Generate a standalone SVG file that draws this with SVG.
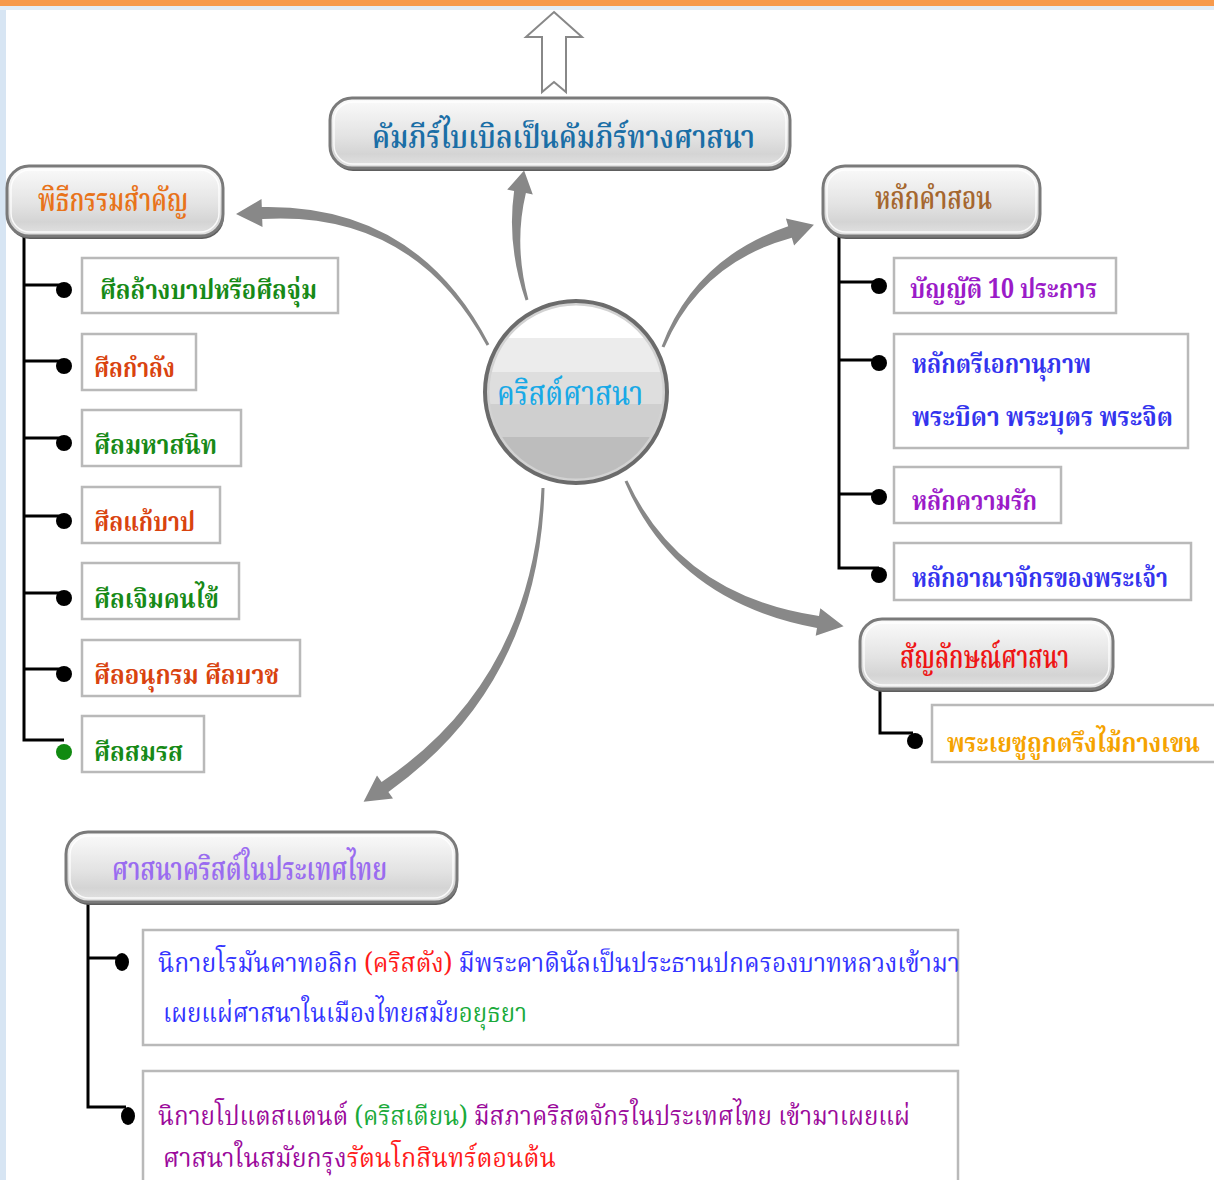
<svg xmlns="http://www.w3.org/2000/svg" width="1214" height="1180" viewBox="0 0 1214 1180">
<defs>
<linearGradient id="gloss" x1="0" y1="0" x2="0" y2="1">
<stop offset="0" stop-color="#fbfbfb"/>
<stop offset="0.3" stop-color="#eeeeee"/>
<stop offset="0.55" stop-color="#e3e3e3"/>
<stop offset="0.8" stop-color="#d4d4d4"/>
<stop offset="1" stop-color="#e4e4e4"/>
</linearGradient>
<clipPath id="cc"><circle cx="576" cy="392" r="88"/></clipPath>
</defs>
<style>
.hdr-sh{fill:#5e5e5e}
.hdr{fill:url(#gloss);stroke:#7a7a7a;stroke-width:3}
.hdr-in{fill:none;stroke:#ffffff;stroke-opacity:0.85;stroke-width:1.5}
.box{fill:#ffffff;stroke:#b9b9b9;stroke-width:2.5}
.ln{fill:none;stroke:#000;stroke-width:3}
.dot{fill:#000}
.arr{fill:#888888}
.t{font-family:"Noto Serif Thai","Norasi","Tlwg Typo","Garuda","Loma","Noto Sans Thai","Liberation Serif",serif}
.h{font-size:32px;font-weight:600}
.it{font-size:27px;font-weight:bold}
.bt{font-size:27px}
.green{fill:#178a17}
.red{fill:#d9430f}
.purple{fill:#9b1bc8}
.blue{fill:#3434ee}
</style>
<rect x="0" y="0" width="1214" height="1180" fill="#ffffff"/>
<rect x="0" y="0" width="6" height="1180" fill="#d7e5f3"/>
<rect x="0" y="6" width="1214" height="4" fill="#e3edf7"/>
<rect x="0" y="0" width="1214" height="6" fill="#f79a4c"/>

<g id="connectors">
<path d="M554,12 L582,37 L566,37 L566,92 L554,82 L542,92 L542,37 L526,37 Z" fill="#ffffff" stroke="#888" stroke-width="2"/>
<path class="arr" d="M489.3,344.3 Q416.7,204 261.8,207 L261.5,199 L236,214 L262.5,227 L262.2,219 Q413.3,210 486.7,345.7 Z"/>
<path class="arr" d="M528.4,299.6 Q513.5,244.8 525.9,193.1 L532.8,194.4 L524.1,170.4 L507.2,189.6 L514.1,190.9 Q506.5,245.2 525.6,300.4 Z"/>
<path class="arr" d="M664.4,347.6 Q699.9,263.1 791.8,237.7 L794.1,245.4 L813.9,224.7 L785.9,218.6 L788.2,226.3 Q695.1,257.9 661.6,346.4 Z"/>
<path class="arr" d="M541.5,487.9 Q532.5,680.6 381.6,782.1 L377,775.5 L363.6,801.8 L393,798.5 L388.4,791.9 Q539.5,684.4 544.5,488.1 Z"/>
<path class="arr" d="M624.6,481.6 Q675.5,601.7 817,627.9 L815.7,635.8 L843.6,626.3 L820.3,608.2 L819,616.1 Q680.5,595.3 627.4,480.4 Z"/>
<path class="ln" d="M24,236 V740 H64 M24,285 H62 M24,361 H62 M24,438 H62 M24,516 H62 M24,593 H62 M24,669 H62"/>
<circle class="dot" cx="64" cy="290" r="8"/>
<circle class="dot" cx="64" cy="366" r="8"/>
<circle class="dot" cx="64" cy="443" r="8"/>
<circle class="dot" cx="64" cy="521" r="8"/>
<circle class="dot" cx="64" cy="598" r="8"/>
<circle class="dot" cx="64" cy="674" r="8"/>
<circle cx="64" cy="752" r="8" fill="#118a11"/>
<path class="ln" d="M839,236 V568 H879 M839,282 H877 M839,360 H877 M839,494 H877"/>
<circle class="dot" cx="879" cy="286" r="8"/>
<circle class="dot" cx="879" cy="363" r="8"/>
<circle class="dot" cx="879" cy="497" r="8"/>
<circle class="dot" cx="879" cy="575" r="8"/>
<path class="ln" d="M880,689 V733 H913"/>
<circle class="dot" cx="915" cy="741" r="8"/>
<path class="ln" d="M88,902 V1107 H126 M88,958 H120"/>
<ellipse class="dot" cx="122" cy="962" rx="7" ry="9"/>
<ellipse class="dot" cx="128" cy="1116" rx="7" ry="9"/>
</g>

<g id="center">
<g clip-path="url(#cc)">
<rect x="480" y="296" width="200" height="200" fill="#ffffff"/>
<rect x="480" y="338" width="200" height="34" fill="#ececec"/>
<rect x="480" y="372" width="200" height="32" fill="#dedede"/>
<rect x="480" y="404" width="200" height="33" fill="#cfcfcf"/>
<rect x="480" y="437" width="200" height="60" fill="#bdbdbd"/>
</g>
<circle cx="576" cy="392" r="88" fill="none" stroke="#d2d2d2" stroke-width="3"/>
<circle cx="576" cy="392" r="91" fill="none" stroke="#6b6b6b" stroke-width="4"/>
<text class="t" x="497" y="405" font-size="34" font-weight="500" fill="#19a9e6" textLength="146" lengthAdjust="spacingAndGlyphs">คริสต์ศาสนา</text>
</g>

<g id="bible">
<rect class="hdr-sh" x="331" y="101" width="460" height="70" rx="22"/>
<rect class="hdr" x="330" y="98" width="460" height="70" rx="22"/>
<rect class="hdr-in" x="334" y="102" width="452" height="62" rx="19"/>
<text class="t h" x="372" y="148" fill="#1a6ea6" textLength="383" lengthAdjust="spacingAndGlyphs">คัมภีร์ไบเบิลเป็นคัมภีร์ทางศาสนา</text>
</g>

<g id="rituals">
<rect class="hdr-sh" x="8" y="169" width="216" height="70" rx="22"/>
<rect class="hdr" x="7" y="166" width="216" height="70" rx="22"/>
<rect class="hdr-in" x="11" y="170" width="208" height="62" rx="19"/>
<text class="t h" x="38" y="211" fill="#e8731a" textLength="150" lengthAdjust="spacingAndGlyphs">พิธีกรรมสำคัญ</text>
</g>
<g id="r1"><rect class="box" x="82" y="258" width="256" height="55"/><text class="t it green" x="100" y="299" textLength="217" lengthAdjust="spacingAndGlyphs">ศีลล้างบาปหรือศีลจุ่ม</text></g>
<g id="r2"><rect class="box" x="82" y="334" width="114" height="56"/><text class="t it red" x="94" y="377" textLength="81" lengthAdjust="spacingAndGlyphs">ศีลกำลัง</text></g>
<g id="r3"><rect class="box" x="82" y="410" width="159" height="56"/><text class="t it green" x="94" y="454" textLength="123" lengthAdjust="spacingAndGlyphs">ศีลมหาสนิท</text></g>
<g id="r4"><rect class="box" x="82" y="487" width="138" height="56"/><text class="t it red" x="94" y="531" textLength="101" lengthAdjust="spacingAndGlyphs">ศีลแก้บาป</text></g>
<g id="r5"><rect class="box" x="82" y="563" width="157" height="56"/><text class="t it green" x="94" y="608" textLength="125" lengthAdjust="spacingAndGlyphs">ศีลเจิมคนไข้</text></g>
<g id="r6"><rect class="box" x="82" y="640" width="218" height="56"/><text class="t it red" x="94" y="684" textLength="185" lengthAdjust="spacingAndGlyphs">ศีลอนุกรม ศีลบวช</text></g>
<g id="r7"><rect class="box" x="82" y="716" width="122" height="56"/><text class="t it green" x="94" y="761" textLength="89" lengthAdjust="spacingAndGlyphs">ศีลสมรส</text></g>

<g id="teachings">
<rect class="hdr-sh" x="824" y="169" width="217" height="70" rx="22"/>
<rect class="hdr" x="823" y="166" width="217" height="70" rx="22"/>
<rect class="hdr-in" x="827" y="170" width="209" height="62" rx="19"/>
<text class="t h" x="875" y="209" fill="#a5672e" textLength="117" lengthAdjust="spacingAndGlyphs">หลักคำสอน</text>
</g>
<g id="t1"><rect class="box" x="894" y="258" width="222" height="55"/><text class="t it purple" x="910" y="298" textLength="187" lengthAdjust="spacingAndGlyphs">บัญญัติ 10 ประการ</text></g>
<g id="t2"><rect class="box" x="894" y="334" width="294" height="114"/><text class="t it blue" x="912" y="373" textLength="179" lengthAdjust="spacingAndGlyphs">หลักตรีเอกานุภาพ</text><text class="t it blue" x="912" y="426" textLength="261" lengthAdjust="spacingAndGlyphs">พระบิดา พระบุตร พระจิต</text></g>
<g id="t3"><rect class="box" x="894" y="467" width="167" height="56"/><text class="t it purple" x="912" y="510" textLength="125" lengthAdjust="spacingAndGlyphs">หลักความรัก</text></g>
<g id="t4"><rect class="box" x="894" y="543" width="297" height="57"/><text class="t it blue" x="912" y="587" textLength="256" lengthAdjust="spacingAndGlyphs">หลักอาณาจักรของพระเจ้า</text></g>

<g id="symbol">
<rect class="hdr-sh" x="861" y="622" width="253" height="70" rx="22"/>
<rect class="hdr" x="860" y="619" width="253" height="70" rx="22"/>
<rect class="hdr-in" x="864" y="623" width="245" height="62" rx="19"/>
<text class="t h" x="900" y="668" fill="#ee1515" textLength="169" lengthAdjust="spacingAndGlyphs">สัญลักษณ์ศาสนา</text>
</g>
<g id="s1"><rect class="box" x="932" y="705" width="290" height="57"/><text class="t it" x="947" y="752" fill="#f5a300" textLength="253" lengthAdjust="spacingAndGlyphs">พระเยซูถูกตรึงไม้กางเขน</text></g>

<g id="thailand">
<rect class="hdr-sh" x="67" y="835" width="391" height="70" rx="22"/>
<rect class="hdr" x="66" y="832" width="391" height="70" rx="22"/>
<rect class="hdr-in" x="70" y="836" width="383" height="62" rx="19"/>
<text class="t h" x="112" y="880" fill="#9a6cf0" textLength="275" lengthAdjust="spacingAndGlyphs">ศาสนาคริสต์ในประเทศไทย</text>
</g>
<g id="b1">
<rect class="box" x="143" y="930" width="815" height="115"/>
<text class="t bt" x="158" y="972" fill="#3333ff" textLength="802" lengthAdjust="spacingAndGlyphs">นิกายโรมันคาทอลิก <tspan fill="#ff1a1a">(คริสตัง)</tspan> มีพระคาดินัลเป็นประธานปกครองบาทหลวงเข้ามา</text>
<text class="t bt" x="163" y="1022" fill="#3333ff" textLength="364" lengthAdjust="spacingAndGlyphs">เผยแผ่ศาสนาในเมืองไทยสมัย<tspan fill="#1aaa3a">อยุธยา</tspan></text>
</g>
<g id="b2">
<rect class="box" x="143" y="1071" width="815" height="130"/>
<text class="t bt" x="158" y="1125" fill="#9b0a9b" textLength="752" lengthAdjust="spacingAndGlyphs">นิกายโปแตสแตนต์ <tspan fill="#1aaa3a">(คริสเตียน)</tspan> มีสภาคริสตจักรในประเทศไทย เข้ามาเผยแผ่</text>
<text class="t bt" x="163" y="1167" fill="#9b0a9b" textLength="393" lengthAdjust="spacingAndGlyphs">ศาสนาในสมัยกรุง<tspan fill="#ff1a1a">รัตนโกสินทร์ตอนต้น</tspan></text>
</g>
</svg>
